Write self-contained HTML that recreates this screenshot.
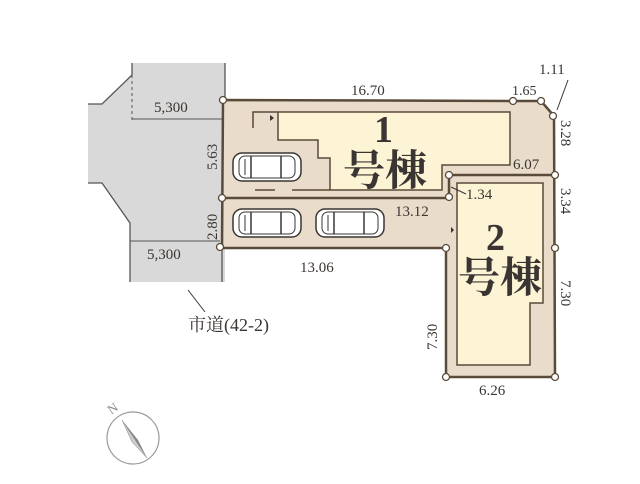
<!DOCTYPE html>
<html><head><meta charset="utf-8"><style>
html,body{margin:0;padding:0;background:#fff;}
svg{display:block;}
text{font-family:"Liberation Serif","Noto Serif CJK SC",serif;fill:#3a3532;}
</style></head><body>
<svg width="640" height="484" viewBox="0 0 640 484" xmlns="http://www.w3.org/2000/svg">
<defs>
<g id="car">
<rect x="0" y="0" width="68" height="28" rx="9" fill="#fff" stroke="#3a3532" stroke-width="1.5"/>
<rect x="6" y="3" width="56" height="22" rx="6" fill="none" stroke="#3a3532" stroke-width="1"/>
<line x1="18" y1="3" x2="18" y2="25" stroke="#3a3532" stroke-width="1.5"/>
<line x1="48" y1="3" x2="48" y2="25" stroke="#3a3532" stroke-width="1.5"/>
<line x1="12" y1="6" x2="12" y2="22" stroke="#3a3532" stroke-width="1"/>
</g>
</defs>
<polygon points="132,63 225,63 225,282 130,282 130,223 102,183 88,183 88,104 102,104 132,75" fill="#d9d9d9"/>
<polyline points="88,104 102,104 132,75 132,63" fill="none" stroke="#555" stroke-width="1.3"/>
<polyline points="88,183 102,183 130,223 130,282" fill="none" stroke="#555" stroke-width="1.3"/>
<line x1="225" y1="63" x2="225" y2="100" stroke="#555" stroke-width="1.3"/>
<line x1="132" y1="75" x2="132" y2="120" stroke="#555" stroke-width="1" stroke-dasharray="3,3"/>
<line x1="132" y1="119" x2="222" y2="119" stroke="#555" stroke-width="1"/>
<line x1="130" y1="241" x2="220" y2="241" stroke="#555" stroke-width="1"/>
<line x1="222" y1="248" x2="222" y2="282" stroke="#555" stroke-width="1.3"/>
<polygon points="223,100 513,101 541,101 554,116 555,377 446,377 446,248 222,248" fill="#e9dccb" stroke="#5a4a3a" stroke-width="2.5"/>
<polyline points="222,198 449,198 449,175 555,175" fill="none" stroke="#5a4a3a" stroke-width="2.5"/>
<polygon points="278,112 510,112 510,165 442,165 442,190 330,190 330,158 318,158 318,140 278,140" fill="#fdf4d6" stroke="#5a4a3a" stroke-width="1.5"/>
<polyline points="253,128 253,112 278,112" fill="none" stroke="#5a4a3a" stroke-width="1.5"/>
<line x1="255" y1="190" x2="275" y2="190" stroke="#5a4a3a" stroke-width="1.5"/>
<line x1="292" y1="190" x2="330" y2="190" stroke="#5a4a3a" stroke-width="1.5"/>
<polygon points="270,115 274,118 270,121" fill="#3a3532"/>
<polygon points="457,183 543,183 543,303 530,303 530,365 457,365" fill="#fdf4d6" stroke="#5a4a3a" stroke-width="1.5"/>
<polygon points="451,227 454,230 451,233" fill="#3a3532"/>
<use href="#car" x="233" y="153"/>
<use href="#car" x="233" y="209"/>
<use href="#car" x="316" y="209"/>
<g fill="#fff" stroke="#5a4a3a" stroke-width="1.3">
<circle cx="223" cy="100" r="3.5"/><circle cx="222" cy="198" r="3.5"/><circle cx="220" cy="247" r="3.5"/>
<circle cx="513" cy="101" r="3.5"/><circle cx="541" cy="101" r="3.5"/><circle cx="553" cy="116" r="3.5"/>
<circle cx="555" cy="175" r="3.5"/><circle cx="555" cy="248" r="3.5"/><circle cx="555" cy="377" r="3.5"/>
<circle cx="446" cy="377" r="3.5"/><circle cx="446" cy="248" r="3.5"/><circle cx="449" cy="175" r="3.5"/><circle cx="449" cy="197" r="3.5"/>
</g>
<line x1="451" y1="187" x2="466" y2="194" stroke="#3a3532" stroke-width="1"/>
<line x1="557" y1="110" x2="568" y2="80" stroke="#3a3532" stroke-width="1"/>
<line x1="188" y1="290" x2="205" y2="312" stroke="#3a3532" stroke-width="1"/>
<g font-size="15">
<text x="351" y="95">16.70</text>
<text x="512" y="95" font-size="14">1.65</text>
<text x="539" y="74">1.11</text>
<text x="154" y="112">5,300</text>
<text x="147" y="259">5,300</text>
<text x="300" y="272">13.06</text>
<text x="395" y="216">13.12</text>
<text x="466" y="199">1.34</text>
<text x="513" y="169">6.07</text>
<text x="479" y="395">6.26</text>
<text transform="translate(217,170) rotate(-90)">5.63</text>
<text transform="translate(217,240) rotate(-90)">2.80</text>
<text transform="translate(437,350) rotate(-90)">7.30</text>
<text transform="translate(561,120) rotate(90)">3.28</text>
<text transform="translate(561,188) rotate(90)">3.34</text>
<text transform="translate(561,280) rotate(90)">7.30</text>
</g>
<text x="374" y="142" font-size="38" font-weight="bold">1</text>
<text x="343" y="185" font-size="42" font-weight="bold">号棟</text>
<text x="486" y="250" font-size="38" font-weight="bold">2</text>
<text x="458" y="292" font-size="42" font-weight="bold">号棟</text>
<text x="188" y="331" font-size="18">市道(42-2)</text>
<circle cx="133" cy="438" r="26" fill="none" stroke="#999" stroke-width="1.2"/>
<polygon points="122,420 147,458 138,440" fill="#888"/>
<polygon points="122,420 147,458 132,442" fill="#ccc" stroke="#888" stroke-width="0.5"/>
<text x="108" y="412" font-size="13" style="fill:#888" transform="rotate(-35,114,408)">N</text>
</svg>
</body></html>
